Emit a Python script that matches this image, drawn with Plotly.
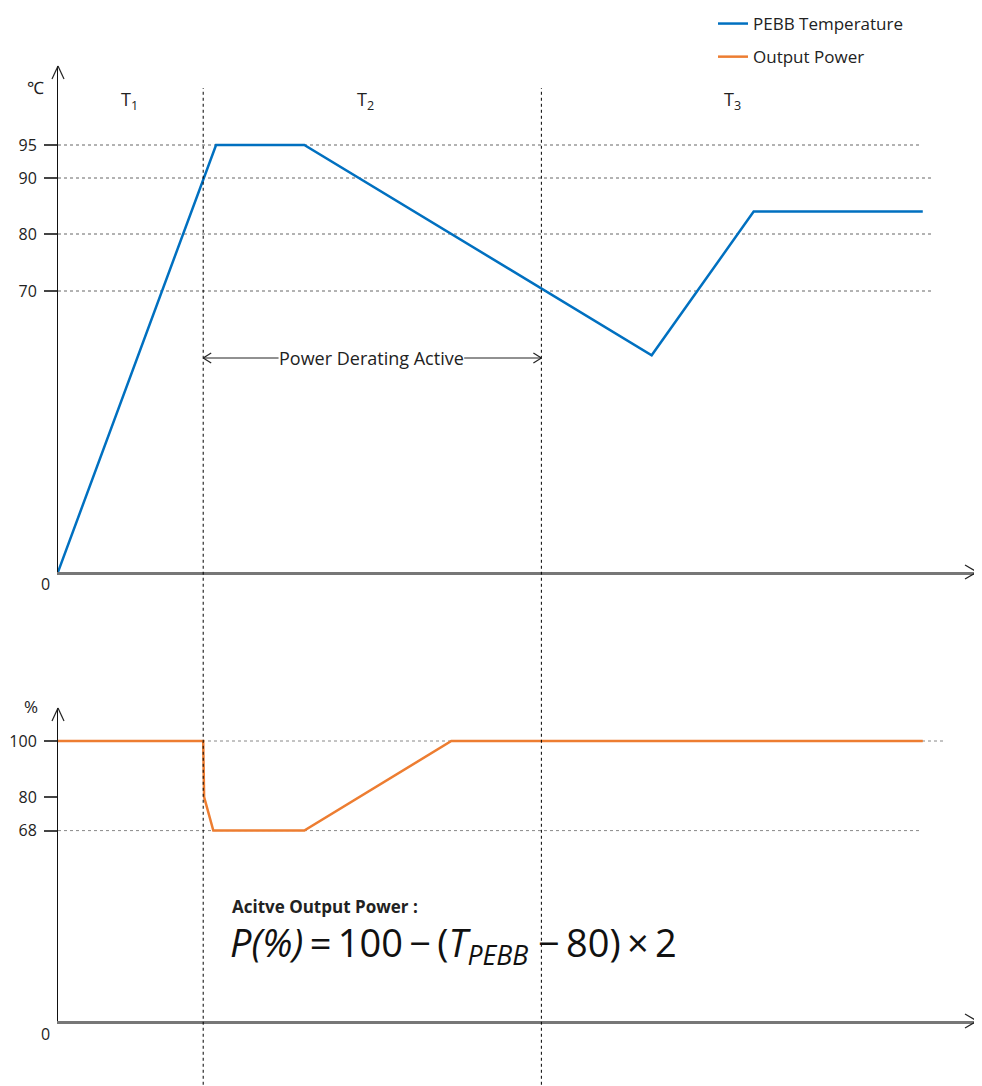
import numpy as np
import plotly.graph_objects as go

# ---------------- data ----------------
time_temp = [0, 17.2, 26.8, 64.6, 75.7, 94.1]
temp_vals = [0, 95, 95, 54, 84, 84]

time_power = [0, 15.8, 15.9, 16.9, 26.8, 42.8, 94.1]
power_vals = [100, 100, 80, 68, 68, 100, 100]

temp_ticks = [70, 80, 90, 95]
power_ticks = [68, 80, 100]
phase_bounds = [15.8, 52.6]          # T1/T2 and T2/T3 boundaries
phase_labels = ["T<sub>1</sub>", "T<sub>2</sub>", "T<sub>3</sub>"]
phase_label_x = [7.8, 33.5, 73.4]

# schematic (broken) temperature scale: anchors temperature -> display units
scale_T = [0, 70, 80, 90, 95]
scale_D = [0, 281, 338, 394, 427]


def tdisp(v):
    return np.interp(v, scale_T, scale_D)


BLUE = "#0070C0"
ORANGE = "#ED7D31"
FONT = "Open Sans"
W, H = 974, 1078          # page body has an 8px margin
L, R = 50, 5
PW = W - L - R
TOP_RANGE = 506
BOT_RANGE = 313 / 2.8


def py(y):
    """figure pixel row -> paper fraction"""
    return 1 - y / H


fig = go.Figure()
fig.add_trace(go.Scatter(x=time_temp, y=tdisp(temp_vals), mode="lines",
                         line=dict(color=BLUE, width=2.5), name="PEBB Temperature",
                         legendgroup="a", xaxis="x", yaxis="y"))
fig.add_trace(go.Scatter(x=time_power, y=power_vals, mode="lines",
                         line=dict(color=ORANGE, width=2.5), name="Output Power",
                         legendgroup="b", xaxis="x2", yaxis="y2"))

shapes = []
annots = []

# gridlines top
grid_end_top = {95: 93.9, 90: 95.3, 80: 95.3, 70: 95.3}
for v in temp_ticks:
    shapes.append(dict(type="line", xref="x", yref="y", x0=0, x1=grid_end_top[v],
                       y0=tdisp(v), y1=tdisp(v), line=dict(color="#666", width=1, dash="dot"), layer="below"))
grid_end_bot = {100: 96.5, 68: 93.9}
for v in [100, 68]:
    shapes.append(dict(type="line", xref="x2", yref="y2", x0=0, x1=grid_end_bot[v],
                       y0=v, y1=v, line=dict(color="#888", width=1, dash="dot"), layer="below"))

# vertical phase boundaries spanning both panels
for b in phase_bounds:
    shapes.append(dict(type="line", xref="x", yref="paper", x0=b, x1=b, y0=-0.01, y1=py(80),
                       line=dict(color="#000", width=1, dash="dot")))


# open chevron arrow heads: two short lines in pixel offsets from an anchor
def chevron(xref, yref, xa, ya, pts, color="#222"):
    for (dx, dy) in pts:
        shapes.append(dict(type="line", xref=xref, yref=yref, xsizemode="pixel", ysizemode="pixel",
                           xanchor=xa, yanchor=ya, x0=0, y0=0, x1=dx, y1=dy,
                           line=dict(color=color, width=1.2)))


RIGHT = [(-12, 7), (-12, -7)]
UP = [(-6, -13), (6, -13)]
top_dom = [py(564), py(58)]
bot_dom = [py(1013), py(700)]
chevron("paper", "paper", 1, top_dom[0], RIGHT)
chevron("paper", "paper", 1, bot_dom[0], RIGHT)
chevron("paper", "paper", 0, top_dom[1], UP)
chevron("paper", "paper", 0, bot_dom[1], UP)

# Power derating double arrow
pda_y = 572 - 358
shapes.append(dict(type="line", xref="x", yref="y", x0=phase_bounds[0], x1=24.0, y0=pda_y, y1=pda_y,
                   line=dict(color="#222", width=1)))
shapes.append(dict(type="line", xref="x", yref="y", x0=44.2, x1=phase_bounds[1], y0=pda_y, y1=pda_y,
                   line=dict(color="#222", width=1)))
chevron("x", "y", phase_bounds[0], pda_y, [(8, 5), (8, -5)])
chevron("x", "y", phase_bounds[1], pda_y, [(-8, 5), (-8, -5)])
annots.append(dict(xref="x", yref="y", x=34.1, y=pda_y, text="Power Derating Active", showarrow=False,
                   font=dict(size=18, color="#222"), xanchor="center", yanchor="middle"))

# phase labels
for lbl, px in zip(phase_labels, phase_label_x):
    annots.append(dict(xref="x", yref="paper", x=px, y=py(92), text=lbl, showarrow=False,
                       font=dict(size=18, color="#222"), xanchor="center", yanchor="middle"))

# unit labels and zero labels
annots.append(dict(xref="paper", yref="paper", x=-23 / PW, y=py(80), text="℃", showarrow=False,
                   font=dict(size=17, color="#222"), xanchor="center", yanchor="middle"))
annots.append(dict(xref="paper", yref="paper", x=-27 / PW, y=py(698), text="%", showarrow=False,
                   font=dict(size=17, color="#222"), xanchor="center", yanchor="middle"))
annots.append(dict(xref="paper", yref="paper", x=-13 / PW, y=py(576), text="0", showarrow=False,
                   font=dict(size=16, color="#222"), xanchor="center", yanchor="middle"))
annots.append(dict(xref="paper", yref="paper", x=-13 / PW, y=py(1026), text="0", showarrow=False,
                   font=dict(size=16, color="#222"), xanchor="center", yanchor="middle"))

# formula
annots.append(dict(xref="x2", yref="y2", x=(230 - 58) / 9.19, y=(1021 - 906) / 2.8,
                   text="<b>Acitve Output Power :</b>",
                   showarrow=False, font=dict(size=17, color="#222"), xanchor="left", yanchor="middle"))
annots.append(dict(xref="x2", yref="y2", x=(228 - 58) / 9.19, y=(1021 - 944) / 2.8,
                   text="<i>P(%)</i>\u2009=\u2009100\u2009−\u2009(<i>T</i><sub><i>PEBB</i></sub> −\u200980)\u2009×\u20092",
                   showarrow=False, font=dict(size=38, color="#111"), xanchor="left", yanchor="middle"))

axis_common = dict(showgrid=False, zeroline=False, automargin=False)
fig.update_layout(
    width=W, height=H, autosize=False,
    margin=dict(l=L, r=R, t=0, b=0, autoexpand=False),
    paper_bgcolor="white", plot_bgcolor="rgba(0,0,0,0)",
    font=dict(family=FONT, color="#222"),
    xaxis=dict(domain=[0, 1], range=[0, 100], anchor="y", showline=True, linecolor="#777", linewidth=2.5,
               showticklabels=False, ticks="", **axis_common),
    xaxis2=dict(domain=[0, 1], range=[0, 100], anchor="y2", showline=True, linecolor="#777", linewidth=2.5,
                showticklabels=False, ticks="", **axis_common),
    yaxis=dict(domain=top_dom, range=[0, TOP_RANGE], anchor="x", showline=True,
               linecolor="#111", linewidth=1, ticks="outside", ticklen=13, tickcolor="#444", tickwidth=1.5,
               tickvals=list(tdisp(temp_ticks)), ticktext=[str(v) for v in temp_ticks],
               tickfont=dict(size=16, color="#222"), ticklabelstandoff=4, **axis_common),
    yaxis2=dict(domain=bot_dom, range=[0, BOT_RANGE], anchor="x2", showline=True,
                linecolor="#111", linewidth=1, ticks="outside", ticklen=13, tickcolor="#444", tickwidth=1.5,
                tickvals=power_ticks, ticktext=[str(v) for v in power_ticks],
                tickfont=dict(size=16, color="#222"), ticklabelstandoff=4, **axis_common),
    showlegend=True,
    legend=dict(x=(705 - L) / PW, y=1 + 2 / H, xanchor="left", yanchor="top",
                font=dict(size=17, color="#222"),
                bgcolor="rgba(0,0,0,0)", tracegroupgap=8),
    shapes=shapes, annotations=annots,
)

fig.write_html("out.html")
